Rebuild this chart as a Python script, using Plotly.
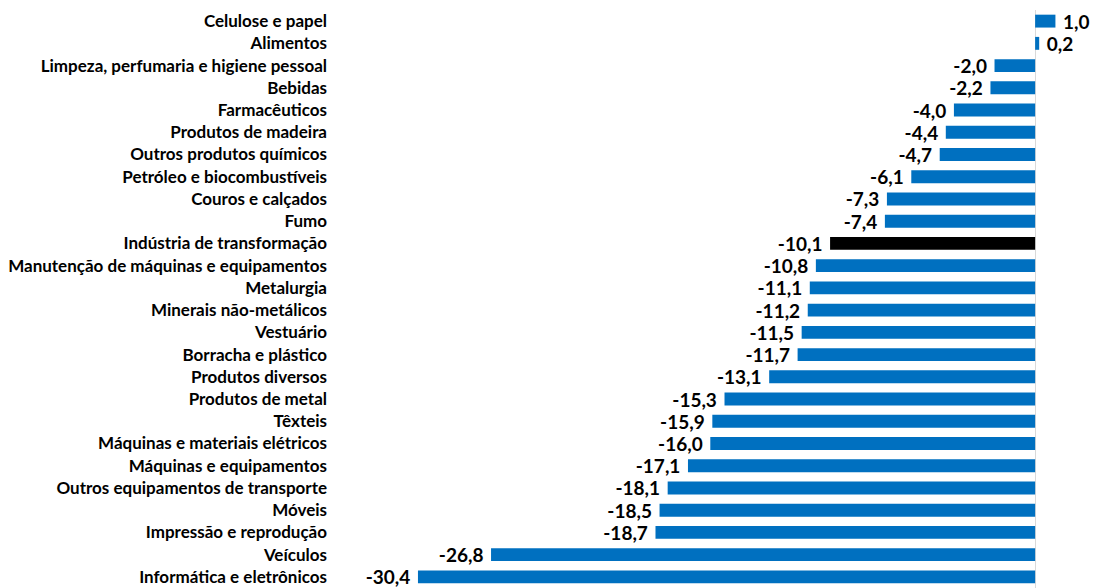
import plotly.graph_objects as go

categories = [
    "Celulose e papel", "Alimentos", "Limpeza, perfumaria e higiene pessoal", "Bebidas",
    "Farmacêuticos", "Produtos de madeira", "Outros produtos químicos",
    "Petróleo e biocombustíveis", "Couros e calçados", "Fumo",
    "Indústria de transformação", "Manutenção de máquinas e equipamentos", "Metalurgia",
    "Minerais não-metálicos", "Vestuário", "Borracha e plástico", "Produtos diversos",
    "Produtos de metal", "Têxteis", "Máquinas e materiais elétricos",
    "Máquinas e equipamentos", "Outros equipamentos de transporte", "Móveis",
    "Impressão e reprodução", "Veículos", "Informática e eletrônicos",
]
values = [1.0, 0.2, -2.0, -2.2, -4.0, -4.4, -4.7, -6.1, -7.3, -7.4, -10.1, -10.8, -11.1,
          -11.2, -11.5, -11.7, -13.1, -15.3, -15.9, -16.0, -17.1, -18.1, -18.5, -18.7,
          -26.8, -30.4]
highlight = "Indústria de transformação"

colors = ["#000000" if c == highlight else "#0070C0" for c in categories]
labels = []
for v in values:
    s = f"{v:.1f}".replace(".", ",")
    labels.append(s + "\u00a0" if v < 0 else "\u00a0" + s)

fig = go.Figure(go.Bar(
    x=values, y=categories, orientation="h",
    marker=dict(color=colors, line=dict(width=0)),
    text=labels, textposition="outside", cliponaxis=False, constraintext="none",
    textfont=dict(family="Lato", size=19, color="#000000", weight="bold"),
))
fig.update_layout(
    width=1094, height=588,
    margin=dict(l=340, r=0, t=10, b=0),
    paper_bgcolor="white", plot_bgcolor="white",
    bargap=0.42, showlegend=False,
    xaxis=dict(range=[-34.24, 2.9], showgrid=False, showticklabels=False,
               zeroline=True, zerolinecolor="#D9D9D9", zerolinewidth=1, fixedrange=True),
    yaxis=dict(autorange=False, range=[25.5, -0.5], showgrid=False, automargin=False,
               ticklabelstandoff=12, ticks="",
               tickfont=dict(family="Lato", size=17, color="#000000", weight="bold")),
)
fig.write_html("out.html")
